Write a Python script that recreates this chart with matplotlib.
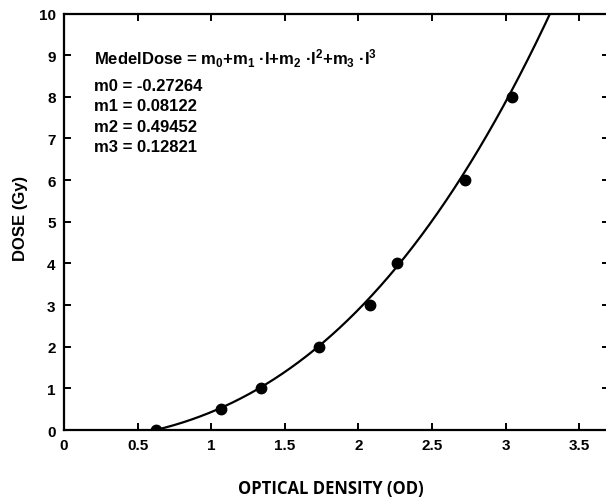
import numpy as np
import matplotlib
matplotlib.use('Agg')
import matplotlib.pyplot as plt

# calibration points: optical density vs delivered dose
od = [0.625, 1.064, 1.335, 1.73, 2.077, 2.263, 2.722, 3.041]
dose = [0, 0.5, 1, 2, 3, 4, 6, 8]

# cubic fit coefficients m0..m3
m = [-0.27264, 0.08122, 0.49452, 0.12821]

x_ticks = [0, 0.5, 1, 1.5, 2, 2.5, 3, 3.5]
x_ticklabels = ['0', '0.5', '1', '1.5', '2', '2.5', '3', '3.5']
y_ticks = list(range(0, 11))

plt.rcParams['font.family'] = ['Liberation Sans', 'DejaVu Sans']
plt.rcParams['font.weight'] = 'bold'
plt.rcParams['mathtext.fontset'] = 'custom'
plt.rcParams['mathtext.rm'] = 'Liberation Sans:bold'
plt.rcParams['mathtext.it'] = 'Liberation Sans:bold'
plt.rcParams['mathtext.bf'] = 'Liberation Sans:bold'
plt.rcParams['mathtext.default'] = 'regular'

fig = plt.figure(figsize=(6.06, 5.02), dpi=100)
ax = fig.add_axes([0.1056, 0.1414, 0.899, 0.8297])

# fitted curve from the coefficients, up to the top of the plot
xs = np.linspace(od[0], 3.4, 400)
ys = m[0] + m[1] * xs + m[2] * xs**2 + m[3] * xs**3
ax.plot(xs, ys, color='black', lw=1.6, zorder=2)
ax.plot(od, dose, 'o', color='black', ms=7.5, zorder=3)

ax.set_xlim(0, 3.7)
ax.set_ylim(0, 10)
ax.set_xticks(x_ticks)
ax.set_xticklabels(x_ticklabels)
ax.set_yticks(y_ticks)

for s in ax.spines.values():
    s.set_linewidth(1.6)
ax.tick_params(direction='in', length=5, width=1.4, top=True, right=True,
               labelsize=11, pad=6, colors='black')

ax.set_ylabel('DOSE (Gy)', fontsize=12, fontweight='bold')
ax.yaxis.set_label_coords(-0.066, 0.51)
ax.set_xlabel('OPTICAL DENSITY (OD)', fontsize=12, fontweight='bold',
              family='Open Sans')
ax.xaxis.set_label_coords(0.489, -0.118)

ax.text(0.055, 0.895,
        'MedelDose = m$_0$+m$_1$ ·I+m$_2$ ·I$^2$+m$_3$ ·I$^3$',
        transform=ax.transAxes, fontsize=12, va='center', ha='left')
rows = [0.826, 0.778, 0.728, 0.680]
for i, (coef, yy) in enumerate(zip(m, rows)):
    ax.text(0.055, yy, 'm%d = %.5f' % (i, coef), transform=ax.transAxes,
            fontsize=12, va='center', ha='left')

fig.savefig('out.png', dpi=100)
